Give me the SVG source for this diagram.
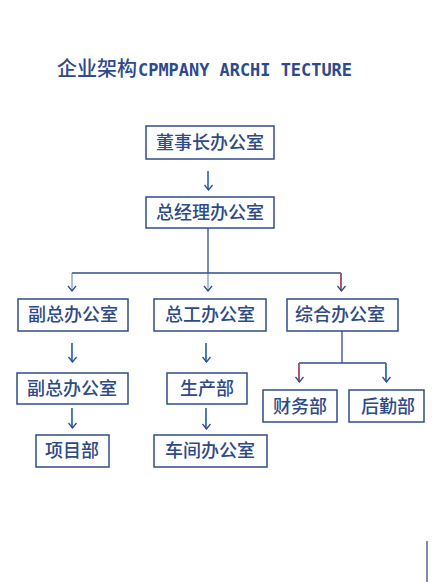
<svg xmlns="http://www.w3.org/2000/svg" width="433" height="582" viewBox="0 0 433 582">
<style>
.box{fill:#ffffff;stroke:#2f4d8c;stroke-width:1.5}
.lbl{font-family:"Noto Sans CJK SC","Noto Sans",sans-serif;font-size:18px;font-weight:500;fill:#2e4a87;text-anchor:middle}
.ln{fill:none;stroke:#2f4d8c;stroke-width:1.3}
.ar{fill:none;stroke-width:1}
.title{font-family:"Noto Sans CJK SC",sans-serif;font-size:20px;font-weight:500;fill:#2e4a8a}
.mono{font-family:"DejaVu Sans Mono","Liberation Mono",monospace;font-size:18px;font-weight:bold;fill:#2e4a8a}
</style>
<defs>
<marker id="ah" markerWidth="8" markerHeight="10" refX="7" refY="5" orient="auto" markerUnits="userSpaceOnUse" viewBox="0 0 8 10">
<path d="M2,1 L7,5 L2,9" fill="none" stroke="#2f4d8c" stroke-width="1.3"/>
</marker>
</defs>
<text x="57" y="76" class="title">企业架构</text>
<text x="138" y="76" class="mono" textLength="214" lengthAdjust="spacingAndGlyphs">CPMPANY ARCHI TECTURE</text>

<g id="connectors">
<line class="ar" x1="207.5" y1="171" x2="207.5" y2="190" stroke="#5b7fc0"/>
<line class="ar" x1="208.5" y1="171" x2="208.5" y2="190" stroke="#4f81bd" marker-end="url(#ah)"/>
<polyline class="ln" points="208,228 208,273"/>
<polyline class="ln" points="72,273 341,273"/>
<line class="ar" x1="72" y1="273" x2="72" y2="291" stroke="#4f81bd" marker-end="url(#ah)"/>
<line class="ar" x1="208" y1="273" x2="208" y2="291" stroke="#4f81bd" marker-end="url(#ah)"/>
<line class="ar" x1="340.5" y1="273" x2="340.5" y2="291" stroke="#b05070"/>
<line class="ar" x1="341.5" y1="273" x2="341.5" y2="291" stroke="#4f81bd" marker-end="url(#ah)"/>
<line class="ar" x1="71.5" y1="343" x2="71.5" y2="362" stroke="#b05070"/>
<line class="ar" x1="72.5" y1="343" x2="72.5" y2="362" stroke="#4f81bd" marker-end="url(#ah)"/>
<line class="ar" x1="205.5" y1="343" x2="205.5" y2="362" stroke="#b05070"/>
<line class="ar" x1="206.5" y1="343" x2="206.5" y2="362" stroke="#4f81bd" marker-end="url(#ah)"/>
<polyline class="ln" points="342,331 342,363"/>
<polyline class="ln" points="299,363 386,363"/>
<line class="ar" x1="298.5" y1="363" x2="298.5" y2="382" stroke="#b05070"/>
<line class="ar" x1="299.5" y1="363" x2="299.5" y2="382" stroke="#4f81bd" marker-end="url(#ah)"/>
<line class="ar" x1="385.5" y1="363" x2="385.5" y2="382" stroke="#b05070"/>
<line class="ar" x1="386.5" y1="363" x2="386.5" y2="382" stroke="#4f81bd" marker-end="url(#ah)"/>
<line class="ar" x1="71.5" y1="408" x2="71.5" y2="428" stroke="#b05070"/>
<line class="ar" x1="72.5" y1="408" x2="72.5" y2="428" stroke="#4f81bd" marker-end="url(#ah)"/>
<line class="ar" x1="205.5" y1="408" x2="205.5" y2="429" stroke="#b05070"/>
<line class="ar" x1="206.5" y1="408" x2="206.5" y2="429" stroke="#4f81bd" marker-end="url(#ah)"/>
</g>

<g id="n1"><rect class="box" x="146" y="126" width="128" height="33"/><text class="lbl" x="210" y="149">董事长办公室</text></g>
<g id="n2"><rect class="box" x="146" y="197" width="128" height="31"/><text class="lbl" x="210" y="219">总经理办公室</text></g>
<g id="n3"><rect class="box" x="18" y="299" width="110" height="32"/><text class="lbl" x="73" y="321">副总办公室</text></g>
<g id="n4"><rect class="box" x="154" y="299" width="112" height="32"/><text class="lbl" x="210" y="321">总工办公室</text></g>
<g id="n5"><rect class="box" x="287" y="299" width="111" height="32"/><text class="lbl" x="340" y="321">综合办公室</text></g>
<g id="n6"><rect class="box" x="17" y="373" width="111" height="31"/><text class="lbl" x="72" y="395">副总办公室</text></g>
<g id="n7"><rect class="box" x="167" y="373" width="80" height="31"/><text class="lbl" x="207" y="395">生产部</text></g>
<g id="n8"><rect class="box" x="263" y="390" width="74" height="32"/><text class="lbl" x="300" y="413">财务部</text></g>
<g id="n9"><rect class="box" x="349" y="390" width="75" height="32"/><text class="lbl" x="388" y="413">后勤部</text></g>
<g id="n10"><rect class="box" x="36" y="435" width="73" height="32"/><text class="lbl" x="72" y="457">项目部</text></g>
<g id="n11"><rect class="box" x="154" y="435" width="113" height="32"/><text class="lbl" x="210" y="457">车间办公室</text></g>

<line x1="427" y1="541" x2="427" y2="582" stroke="#2f3f7a" stroke-width="1.2"/>
</svg>
